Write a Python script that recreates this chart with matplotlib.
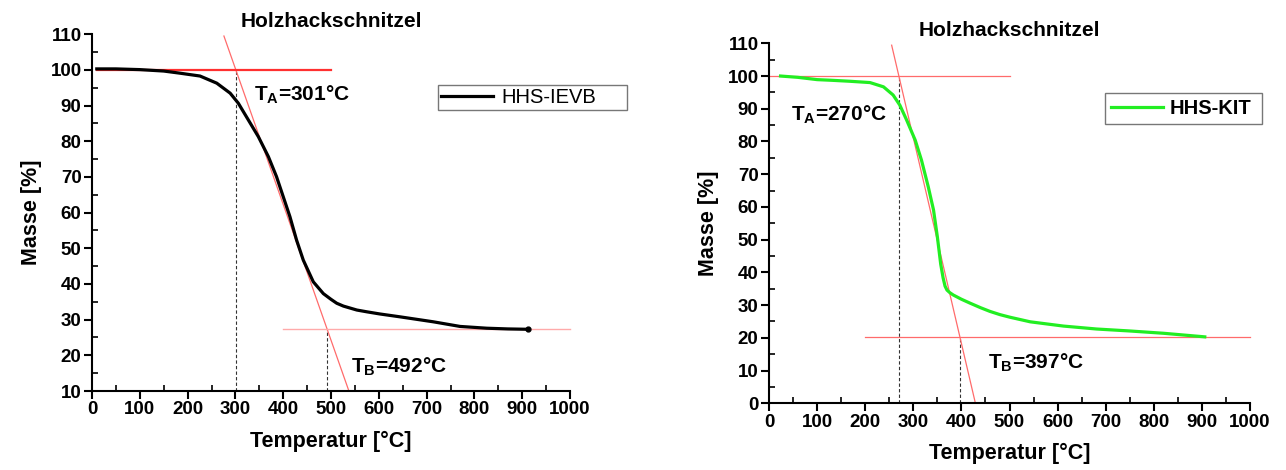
import matplotlib
matplotlib.use("Agg")
import matplotlib.pyplot as plt
import numpy as np
from matplotlib.ticker import MultipleLocator

plt.rcParams['font.family'] = ['Liberation Sans', 'DejaVu Sans']
plt.rcParams['mathtext.fontset'] = 'custom'
plt.rcParams['mathtext.rm'] = 'Liberation Sans'
plt.rcParams['mathtext.bf'] = 'Liberation Sans:bold'
plt.rcParams['mathtext.it'] = 'Liberation Sans:italic'

# ---- data: left (HHS-IEVB) ----
ievb_T = [10, 50, 100, 150, 184, 226, 261, 289, 306, 327, 348, 369, 386, 400, 414, 428, 442,
          463, 484, 500, 512, 526, 554, 575, 602, 644, 714, 770, 826, 870, 913]
ievb_m = [100.3, 100.3, 100.1, 99.7, 99.1, 98.3, 96.3, 93.5, 90.7, 86.0, 81.3, 75.7, 70.1, 64.5, 58.9, 52.3, 46.7,
          40.6, 37.3, 35.7, 34.6, 33.8, 32.7, 32.2, 31.6, 30.8, 29.4, 28.1, 27.6, 27.4, 27.3]
ievb_TA, ievb_TB = 301, 492
ievb_top, ievb_bottom = 100.0, 27.3

# ---- data: right (HHS-KIT) ----
kit_T = [24, 60, 100, 130, 168, 210, 238, 258, 272, 286, 304, 317, 331, 342, 350, 357, 362, 366, 370, 376,
         383, 400, 418, 440, 459, 480, 501, 543, 612, 681, 750, 820, 906]
kit_m = [100.0, 99.6, 98.9, 98.7, 98.4, 98.0, 96.7, 94.2, 91.1, 86.6, 80.4, 74.3, 66.2, 59.1, 50.9, 42.5, 38.3, 35.8, 34.6, 33.8,
         33.1, 31.8, 30.6, 29.2, 28.1, 27.1, 26.3, 24.9, 23.6, 22.7, 22.1, 21.4, 20.3]
kit_TA, kit_TB = 270, 397
kit_top, kit_bottom = 100.0, 20.2

fig = plt.figure(figsize=(12.86, 4.70), dpi=100)
ax1 = fig.add_axes([92/1286, 1-391/470, (570-92)/1286, (391-34.3)/470])
ax2 = fig.add_axes([769/1286, 1-403.3/470, (1250-769)/1286, (403.3-43.3)/470])

tick_fs = 13.5
label_fs = 15.5
annot_fs = 15
red = '#ff3030'
lightred = '#ff6b6b'


def style(ax, ymin, ymax):
    ax.set_xlim(0, 1000)
    ax.set_ylim(ymin, ymax)
    ax.spines['top'].set_visible(False)
    ax.spines['right'].set_visible(False)
    for s in ['left', 'bottom']:
        ax.spines[s].set_linewidth(1.5)
    ax.xaxis.set_major_locator(MultipleLocator(100))
    ax.xaxis.set_minor_locator(MultipleLocator(50))
    ax.yaxis.set_major_locator(MultipleLocator(10))
    ax.yaxis.set_minor_locator(MultipleLocator(5))
    ax.tick_params(which='major', direction='out', length=6, width=1.5, labelsize=tick_fs, pad=1.5)
    ax.tick_params(which='minor', direction='in', length=4, width=1.2)
    for lab in ax.get_xticklabels() + ax.get_yticklabels():
        lab.set_fontweight('bold')
    ax.set_xlabel('Temperatur [°C]', fontsize=label_fs, fontweight='bold', labelpad=9)
    ax.set_ylabel('Masse [%]', fontsize=label_fs, fontweight='bold', labelpad=6)
    ax.set_title('Holzhackschnitzel', fontsize=15, fontweight='bold', pad=5)


def tangent(TA, TB, top, bottom):
    slope = (bottom - top) / (TB - TA)
    return lambda T: top + slope * (T - TA)


# Left panel
style(ax1, 10, 110)
f1 = tangent(ievb_TA, ievb_TB, ievb_top, ievb_bottom)
T1 = np.array([276, 538])
ax1.plot(T1, f1(T1), color=lightred, lw=0.9, zorder=2)
ax1.plot([10, 500], [ievb_top, ievb_top], color=red, lw=1.6, zorder=2)
ax1.plot([400, 1000], [ievb_bottom, ievb_bottom], color='#ffaaaa', lw=1.0, zorder=2, clip_on=False)
ax1.plot([ievb_TA, ievb_TA], [10, ievb_top], color='#333333', lw=0.8, ls=(0, (3, 2)), zorder=1)
ax1.plot([ievb_TB, ievb_TB], [10, ievb_bottom], color='#333333', lw=0.8, ls=(0, (3, 2)), zorder=1)
ax1.plot(ievb_T, ievb_m, color='black', lw=2.3, label='HHS-IEVB', zorder=3, solid_joinstyle='round')
ax1.plot(ievb_T[-1:], ievb_m[-1:], 'o', color='black', ms=3.5, zorder=3)
ax1.text(338, 93, 'T$_\\mathbf{A}$=301°C', fontsize=annot_fs, fontweight='bold', va='center')
ax1.text(542, 16.7, 'T$_\\mathbf{B}$=492°C', fontsize=annot_fs, fontweight='bold', va='center')
leg1 = ax1.legend(loc='upper left', bbox_to_anchor=((438-92)/478, (391-114)/356.7, (627-438)/478, (143-114)/356.7),
                  mode='expand', fontsize=14.5, frameon=True, fancybox=False, edgecolor='#555555',
                  handlelength=2.6, borderpad=0.15, borderaxespad=0, handletextpad=0.4)
leg1.get_frame().set_linewidth(1.0)
leg1._legend_box.align = 'right'

# Right panel
style(ax2, 0, 110)
f2 = tangent(kit_TA, kit_TB, kit_top, kit_bottom)
T2 = np.array([255, 432])
ax2.plot(T2, f2(T2), color=lightred, lw=0.9, zorder=2)
ax2.plot([0, 500], [kit_top, kit_top], color=lightred, lw=0.9, zorder=2)
ax2.plot([200, 1000], [kit_bottom, kit_bottom], color=lightred, lw=0.9, zorder=2, clip_on=False)
ax2.plot([kit_TA, kit_TA], [0, kit_top], color='#333333', lw=0.8, ls=(0, (3, 2)), zorder=1)
ax2.plot([kit_TB, kit_TB], [0, kit_bottom], color='#333333', lw=0.8, ls=(0, (3, 2)), zorder=1)
ax2.plot(kit_T, kit_m, color='#22ee22', lw=2.3, label='HHS-KIT', zorder=3, solid_joinstyle='round')
ax2.text(46, 88, 'T$_\\mathbf{A}$=270°C', fontsize=annot_fs, fontweight='bold', va='center')
ax2.text(455, 12.3, 'T$_\\mathbf{B}$=397°C', fontsize=annot_fs, fontweight='bold', va='center')
leg2 = ax2.legend(loc='upper left', bbox_to_anchor=((1105-769)/481, (403.3-127)/360, (1262-1105)/481, (161-127)/360),
                  mode='expand', prop={'size': 14.5, 'weight': 'bold'}, frameon=True, fancybox=False,
                  edgecolor='#555555', handlelength=2.6, borderpad=0.3, borderaxespad=0, handletextpad=0.3)
leg2.get_frame().set_linewidth(1.0)
leg2._legend_box.align = 'right'

fig.savefig('out.png', dpi=100, facecolor='white')
